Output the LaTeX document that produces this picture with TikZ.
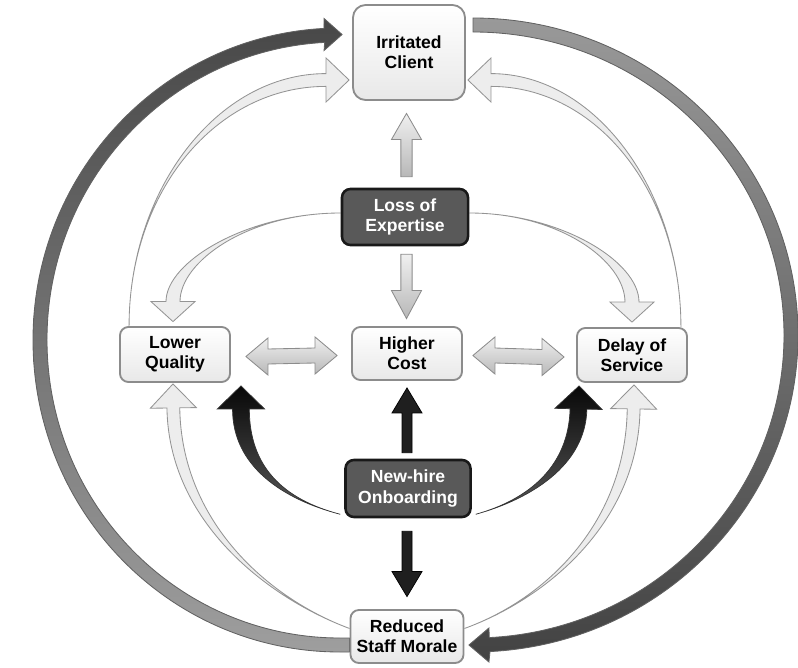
\documentclass[tikz,border=0pt]{standalone}
\usepackage{fontspec}
\setmainfont{Liberation Sans}
\usetikzlibrary{calc, backgrounds}

\newcommand{\boxfont}{\bfseries\fontsize{12.5}{14.5}\selectfont}

% tapered block arrow: style, tail, control 1, control 2, tip,
% tail half width, shaft half width, head half width, head length
\newcommand{\bandarrow}[9]{%
  \coordinate (ba-s) at (#2);
  \coordinate (ba-c) at (#3);
  \coordinate (ba-d) at (#4);
  \coordinate (ba-t) at (#5);
  \coordinate (ba-e) at ($(ba-t)!#9!(ba-d)$);
  \path[#1] ($(ba-s)!#6!-90:(ba-c)$)
    .. controls ($(ba-c)!#6!90:(ba-s)$) and ($(ba-d)!#7!-90:(ba-e)$)
    .. ($(ba-e)!#7!90:(ba-d)$) -- ($(ba-e)!#8!90:(ba-d)$) -- (ba-t)
    -- ($(ba-e)!#8!-90:(ba-d)$) -- ($(ba-e)!#7!-90:(ba-d)$)
    .. controls ($(ba-d)!#7!90:(ba-e)$) and ($(ba-c)!#6!-90:(ba-s)$)
    .. ($(ba-s)!#6!90:(ba-c)$) -- cycle;
}

% horizontal block arrow with two heads: style, left tip, right tip
\newcommand{\twinarrow}[3]{%
  \coordinate (tw-l) at (#2);
  \coordinate (tw-r) at (#3);
  \path[#1] (tw-l) -- ++(22,18.5) -- ++(0,-11) -- ($(tw-r)+(-22,7.5)$)
    -- ++(0,11) -- (tw-r) -- ++(-22,-18.5) -- ++(0,11)
    -- ($(tw-l)+(22,-7.5)$) -- ++(0,-11) -- cycle;
}

\tikzset{
  lightbox/.style={draw=black!45, line width=1.3pt, rounded corners=6pt,
    top color=white, bottom color=black!9, text=black, align=center,
    font=\boxfont, inner sep=2pt},
  darkbox/.style={draw=black!90, line width=1.8pt, rounded corners=6pt,
    fill=black!65, text=white, align=center, font=\boxfont, inner sep=2pt},
  lightband/.style={draw=black!42, line width=0.6pt, fill=black!7},
  greyblock/.style={draw=black!45, line width=0.6pt,
    top color=black!6, bottom color=black!28},
  darkband/.style={draw=black!80, line width=0.5pt,
    top color=black!97, bottom color=black!65},
  darkblock/.style={draw=black, line width=0.5pt, fill=black!88},
  outerleft/.style={draw=black!62, line width=0.6pt,
    top color=black!72, bottom color=black!38},
  outerright/.style={draw=black!62, line width=0.6pt,
    top color=black!40, bottom color=black!74},
}

\begin{document}
\begin{tikzpicture}[x=0.025cm, y=0.025cm]
  \useasboundingbox (0,0) rectangle (798,667);
  % boxes
  \node[lightbox, rounded corners=9pt, minimum width=2.8cm, minimum height=2.375cm]
    (ic) at (409,614.5) {Irritated\\Client};
  \node[darkbox, minimum width=3.15cm, minimum height=1.4cm]
    (loe) at (405,450) {Loss of\\Expertise};
  \node[lightbox, minimum width=2.75cm, minimum height=1.375cm]
    (lq) at (175,312.5) {Lower\\Quality};
  \node[lightbox, minimum width=2.75cm, minimum height=1.325cm]
    (hc) at (407,313.5) {Higher\\Cost};
  \node[lightbox, minimum width=2.75cm, minimum height=1.35cm]
    (dos) at (632,312) {Delay of\\Service};
  \node[darkbox, minimum width=3.125cm, minimum height=1.425cm]
    (nho) at (408,178.5) {New-hire\\Onboarding};
  \node[lightbox, minimum width=2.825cm, minimum height=1.325cm]
    (rsm) at (407,30.5) {Reduced\\Staff Morale};

  \begin{scope}[on background layer]
    % outer loop
    \coordinate (lc) at (340,327);
    \coordinate (rc) at (473,332);
    \path[outerleft] ($(rsm.west)+(0,-15.5)$) -- ($(lc)+(270:307 and 312)$)
      arc[start angle=270, end angle=93, x radius=307, y radius=312]
      -- ($(ic.west)+(-28,34)$) -- ($(ic.west)+(-10,18)$) -- ($(ic.west)+(-28,2)$)
      -- ($(lc)+(93:293 and 298)$)
      arc[start angle=93, end angle=270, x radius=293, y radius=298]
      -- ($(rsm.west)+(0,-1.5)$) -- cycle;
    \path[outerright] ($(rc)+(90:325 and 317)$)
      arc[start angle=90, end angle=-87, x radius=325, y radius=317]
      -- ($(rsm.east)+(24.5,-25.5)$) -- ($(rsm.east)+(4.5,-8.5)$)
      -- ($(rsm.east)+(24.5,8.5)$)
      -- ($(rc)+(-87:311 and 303)$)
      arc[start angle=-87, end angle=90, x radius=311, y radius=303] -- cycle;

    % light curved arrows
    \bandarrow{lightband}{$(lq.north west)+(10,0)$}{$(lq.north west)+(10,136)$}
      {$(ic.west)+(-135,-27.5)$}{$(ic.west)+(-3,-27.5)$}{0mm}{1.6mm}{5.5mm}{5.75mm}
    \bandarrow{lightband}{$(dos.north east)+(-7,0)$}{$(dos.north east)+(-7,136)$}
      {$(ic.east)+(130,-27.5)$}{$(ic.east)+(2,-27.5)$}{0mm}{1.6mm}{5.5mm}{5.75mm}
    \bandarrow{lightband}{$(loe.west)+(0,4)$}{$(loe.west)+(-93,4)$}
      {$(lq.north)+(-2,64.5)$}{$(lq.north)+(-2,4.5)$}{0mm}{1.75mm}{5.5mm}{5mm}
    \bandarrow{lightband}{$(loe.east)+(0,4)$}{$(loe.east)+(90,4)$}
      {$(dos.north)+(0,66)$}{$(dos.north)+(0,5)$}{0mm}{1.75mm}{5.5mm}{5mm}
    \bandarrow{lightband}{$(rsm.west)+(0,8)$}{$(rsm.west)+(-82,38.5)$}
      {$(lq.south)+(0,-138.5)$}{$(lq.south)+(-2,-1)$}{0mm}{1.6mm}{5.75mm}{6mm}
    \bandarrow{lightband}{$(rsm.east)+(0,8)$}{$(rsm.east)+(84,38.5)$}
      {$(dos.south)+(0,-138)$}{$(dos.south)+(2,-2)$}{0mm}{1.6mm}{5.75mm}{6mm}

    % light straight arrows
    \bandarrow{greyblock}{$(loe.north)+(1.5,11)$}{$(loe.north)+(1.5,21)$}
      {$(loe.north)+(1.5,31)$}{$(ic.south)+(-2.5,-12.5)$}{1.4mm}{1.4mm}{3.75mm}{6.5mm}
    \bandarrow{greyblock}{$(loe.south)+(1.5,-8)$}{$(loe.south)+(1.5,-18)$}
      {$(loe.south)+(1.5,-28)$}{$(hc.north)+(-0.5,7.5)$}{1.4mm}{1.4mm}{3.75mm}{7mm}
    \twinarrow{greyblock}{$(lq.east)+(15,-2)$}{$(hc.west)+(-14,-2)$}
    \twinarrow{greyblock}{$(hc.east)+(10,-2)$}{$(dos.west)+(-12,-2)$}

    % dark arrows
    \bandarrow{darkband}{$(nho.south west)+(-4,4)$}{$(nho.south west)+(-61.5,19)$}
      {$(lq.south east)+(10,-83.5)$}{$(lq.south east)+(10,-3)$}{0mm}{2.1mm}{5.9mm}{5.75mm}
    \bandarrow{darkband}{$(nho.south east)+(4,4)$}{$(nho.south east)+(58,19)$}
      {$(dos.south west)+(1,-83)$}{$(dos.south west)+(3,-3)$}{0mm}{2.1mm}{5.9mm}{5.75mm}
    \bandarrow{darkblock}{$(hc.south |- nho.north)+(0,6)$}{$(hc.south |- nho.north)+(0,16)$}
      {$(hc.south |- nho.north)+(0,30)$}{$(hc.south)+(0,-7)$}{1.25mm}{1.25mm}{3.75mm}{6.25mm}
    \bandarrow{darkblock}{$(rsm.north |- nho.south)+(0,-13)$}{$(rsm.north |- nho.south)+(0,-23)$}
      {$(rsm.north |- nho.south)+(0,-33)$}{$(rsm.north)+(0,12.5)$}{1.25mm}{1.25mm}{3.75mm}{6.25mm}
  \end{scope}
\end{tikzpicture}
\end{document}
